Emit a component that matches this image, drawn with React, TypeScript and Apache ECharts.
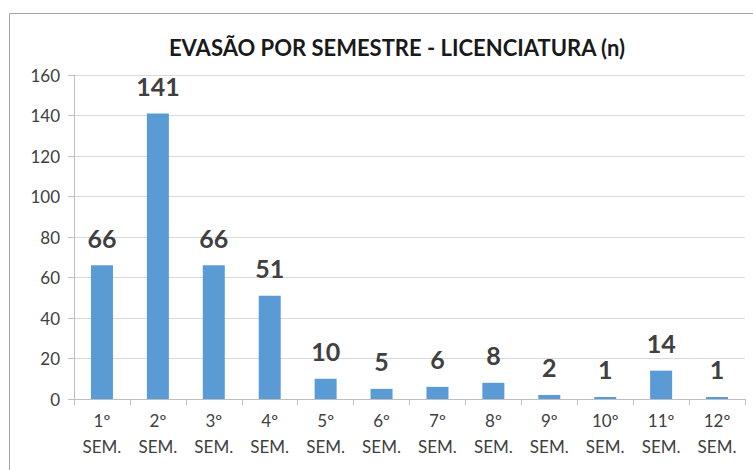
import React, { useEffect, useRef } from "react";
import * as echarts from "echarts";

const categories = ["1º\nSEM.", "2º\nSEM.", "3º\nSEM.", "4º\nSEM.", "5º\nSEM.", "6º\nSEM.", "7º\nSEM.", "8º\nSEM.", "9º\nSEM.", "10º\nSEM.", "11º\nSEM.", "12º\nSEM."];
const values = [66, 141, 66, 51, 10, 5, 6, 8, 2, 1, 14, 1];
const titleText = "EVASÃO POR SEMESTRE - LICENCIATURA (n)";

export default function App() {
  const ref = useRef<HTMLDivElement>(null);
  useEffect(() => {
    const chart = echarts.init(ref.current!, null, { renderer: "svg" });
    chart.setOption({
      animation: false,
      backgroundColor: "#ffffff",
      title: {
        text: titleText,
        left: 392,
        top: 31,
        textAlign: "center",
        textStyle: { fontFamily: "Lato", fontWeight: "bold", fontSize: 22, color: "#1a1a1a" },
      },
      graphic: [
        {
          type: "rect",
          shape: { x: 9.5, y: 13.5, width: 800, height: 500 },
          style: { fill: "none", stroke: "#a6a6a6", lineWidth: 1 },
          silent: true,
        },
      ],
      grid: { left: 74, right: 8, top: 75, bottom: 71, containLabel: false },
      xAxis: {
        type: "category",
        data: categories,
        axisLine: { lineStyle: { color: "#bfbfbf" } },
        axisTick: { show: true, length: 6, lineStyle: { color: "#bfbfbf" } },
        axisLabel: { color: "#404040", fontSize: 17, fontFamily: "Lato", lineHeight: 26, margin: 8, interval: 0 },
      },
      yAxis: {
        type: "value",
        min: 0,
        max: 160,
        interval: 20,
        axisLine: { show: true, lineStyle: { color: "#bfbfbf" } },
        axisTick: { show: true, length: 6, lineStyle: { color: "#bfbfbf" } },
        splitLine: { lineStyle: { color: "#d9d9d9" } },
        axisLabel: { color: "#404040", fontSize: 17, fontFamily: "Lato", margin: 14 },
      },
      series: [
        {
          type: "bar",
          data: values,
          barWidth: 22,
          itemStyle: { color: "#5B9BD5" },
          label: {
            show: true,
            position: "top",
            distance: 15,
            color: "#404040",
            fontSize: 25,
            fontWeight: "bold",
            fontFamily: "Lato",
          },
        },
      ],
    });
    return () => chart.dispose();
  }, []);
  return <div ref={ref} style={{ position: "fixed", left: 0, top: 0, width: 753, height: 470 }} />;
}
